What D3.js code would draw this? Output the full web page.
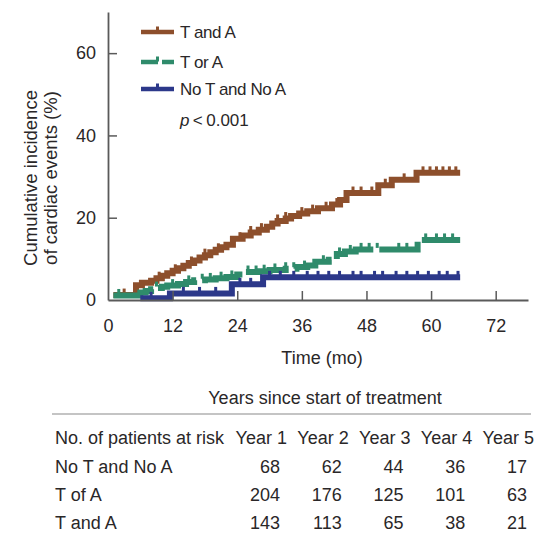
<!DOCTYPE html>
<html>
<head>
<meta charset="utf-8">
<script src="https://cdn.jsdelivr.net/npm/d3@7/dist/d3.min.js"></script>
<style>
  body { margin: 0; background: #fff; }
  svg text { font-family: "Liberation Sans", Arial, Helvetica, sans-serif; fill: #2a2728; }
</style>
</head>
<body>
<svg id="chart" width="536" height="538"></svg>
<script>
// ---- data ----
var seriesNames = ["T and A", "T or A", "No T and No A"];
var seriesColors = ["#8d4f2c", "#2f8b6b", "#2c388a"];

// step knots: [month, cumulative incidence %]
var tAndA = [
  [1, 1.2], [5.2, 3.6], [6.3, 4.2], [8, 4.7], [9, 5.3], [10, 5.9], [11, 6.5], [12, 7.1],
  [13, 7.7], [14, 8.3], [15, 9.0], [16, 9.6], [17, 10.3], [18, 10.9], [19, 11.6],
  [20, 12.2], [21, 12.8], [22, 13.4], [23.2, 14.9], [25, 15.7], [26.5, 16.4], [28, 17.1],
  [29.5, 17.8], [30.5, 18.6], [31.5, 19.2], [33, 19.8], [34, 20.4], [35.5, 21.0],
  [37, 21.6], [39, 22.3], [41.6, 23.2], [43.1, 24.3], [44.3, 26.0], [50.2, 27.9],
  [52.7, 29.2], [57.3, 30.9], [65.4, 30.9]
];
var tOrA = [
  [1, 1.1], [6, 1.8], [7, 2.2], [8, 2.6], [9, 2.9], [10, 3.2], [11, 3.5], [13, 3.9],
  [14.5, 4.4], [16, 4.8], [18, 5.0], [20, 5.3], [22, 5.6], [24, 6.2], [25, 6.8],
  [28, 7.0], [30, 7.3], [33, 7.6], [35, 8.0], [37, 8.4], [38.5, 9.3], [41, 9.8],
  [42.5, 11.2], [44, 11.8], [46, 12.3], [57.5, 14.6], [65.4, 14.6]
];
var noTnoA = [
  [6, 0.4], [11.5, 1.6], [23, 3.8], [28.8, 5.5], [65.4, 5.5]
];

// censoring marks (months)
var censorTandA = [3, 9.5, 12.5, 15.5, 18, 20.5, 24.5, 26.5, 28.5, 31.5, 33, 36, 38, 40.5,
  42.5, 45.5, 47, 49, 51.5, 55, 58.5, 59.8, 61, 62.2, 63.4, 64.6];
var censorTorA = [2, 9, 12, 15, 17.5, 19, 21, 23, 26, 27.5, 29, 31, 33, 34.5, 36.5, 40, 43,
  45, 47, 48.5, 50, 54, 55.5, 59, 61, 62.5, 64];
var censorNoTnoA = [8, 14, 17, 20, 24.5, 26.5, 30, 32, 34.5, 37, 39, 41, 43, 45.5, 47, 49.5,
  51, 53.5, 55.5, 57.5, 59.5, 61.5, 63, 65];

var xTicks = [0, 12, 24, 36, 48, 60, 72];
var yTicks = [0, 20, 40, 60];

// at-risk table
var tableTitle = "Years since start of treatment";
var tableHeader = "No. of patients at risk";
var years = ["Year 1", "Year 2", "Year 3", "Year 4", "Year 5"];
var riskRows = ["No T and No A", "T of A", "T and A"];
var riskNoTnoA = [68, 62, 44, 36, 17];
var riskTorA = [204, 176, 125, 101, 63];
var riskTandA = [143, 113, 65, 38, 21];

// ---- drawing ----
var svg = d3.select("#chart");
svg.append("rect").attr("width", 536).attr("height", 538).attr("fill", "#fff");

var x = d3.scaleLinear().domain([0, 78]).range([108, 528]);
var y = d3.scaleLinear().domain([0, 70]).range([300, 12]);

var curves = [tAndA, tOrA, noTnoA];
var censors = [censorTandA, censorTorA, censorNoTnoA];
var dashes = [null, "46,6", null];

var line = d3.line()
  .curve(d3.curveStepAfter)
  .x(function(d) { return x(d[0]); })
  .y(function(d) { return y(d[1]); });

// value of a step curve at time t
function valueAt(data, t) {
  var v = data[0][1];
  data.forEach(function(d) { if (d[0] <= t) v = d[1]; });
  return v;
}

// draw in back-to-front order: brown, green, blue
[0, 1, 2].forEach(function(i) {
  var g = svg.append("g").attr("class", "series");
  g.append("path")
    .attr("d", line(curves[i]))
    .attr("fill", "none")
    .attr("stroke", seriesColors[i])
    .attr("stroke-width", 6)
    .attr("stroke-dasharray", dashes[i]);
  g.selectAll("rect.censor")
    .data(censors[i])
    .enter().append("rect")
    .attr("class", "censor")
    .attr("x", function(t) { return x(t) - 1.5; })
    .attr("y", function(t) { return y(valueAt(curves[i], t)) - 6.5; })
    .attr("width", 3)
    .attr("height", 5)
    .attr("fill", seriesColors[i]);
});

// axes
var axisColor = "#5a5a5a";
var xAxis = svg.append("g")
  .attr("transform", "translate(0,300)")
  .call(d3.axisBottom(x).tickValues(xTicks).tickSize(-9).tickPadding(19).tickSizeOuter(0));
var yAxis = svg.append("g")
  .attr("transform", "translate(108,0)")
  .call(d3.axisLeft(y).tickValues(yTicks).tickSize(-9).tickPadding(12).tickSizeOuter(0));

[xAxis, yAxis].forEach(function(a) {
  a.select(".domain").attr("stroke", axisColor).attr("stroke-width", 1.8);
  a.selectAll(".tick line").attr("stroke", axisColor).attr("stroke-width", 1.5);
  a.selectAll(".tick text").attr("font-size", 18).attr("fill", "#2a2728")
    .attr("font-family", "Liberation Sans, Arial, sans-serif");
});
xAxis.selectAll(".tick").filter(function(d) { return d === 0; }).select("line").remove();
yAxis.selectAll(".tick").filter(function(d) { return d === 0; }).select("line").remove();

// axis titles
svg.append("text")
  .attr("x", 322).attr("y", 364)
  .attr("text-anchor", "middle")
  .attr("font-size", 18)
  .text("Time (mo)");

var yTitle = ["Cumulative incidence", "of cardiac events (%)"];
yTitle.forEach(function(t, i) {
  svg.append("text")
    .attr("transform", "translate(" + (37 + i * 20) + ",178) rotate(-90)")
    .attr("text-anchor", "middle")
    .attr("font-size", 18.5)
    .text(t);
});

// legend
var legendY = [32, 62, 89];
seriesNames.forEach(function(name, i) {
  var g = svg.append("g").attr("transform", "translate(0," + legendY[i] + ")");
  g.append("line")
    .attr("x1", 141).attr("x2", 174).attr("y1", 0).attr("y2", 0)
    .attr("stroke", seriesColors[i]).attr("stroke-width", 4.5)
    .attr("stroke-dasharray", i === 1 ? "17,4" : null);
  g.append("rect")
    .attr("x", 156).attr("y", -5.5).attr("width", 3).attr("height", 5)
    .attr("fill", seriesColors[i]);
  g.append("text")
    .attr("x", 180).attr("y", 6)
    .attr("font-size", 17)
    .attr("letter-spacing", -0.4)
    .text(name);
});
var pText = svg.append("text").attr("x", 180).attr("y", 126).attr("font-size", 17);
pText.append("tspan").attr("font-style", "italic").text("p");
pText.append("tspan").text("\u2009<\u20090.001");

// risk table
svg.append("text")
  .attr("x", 325).attr("y", 404)
  .attr("text-anchor", "middle")
  .attr("font-size", 18)
  .text(tableTitle);
svg.append("line")
  .attr("x1", 52).attr("x2", 531).attr("y1", 414).attr("y2", 414)
  .attr("stroke", "#8a8a8a").attr("stroke-width", 1.2);

var col = d3.scalePoint().domain(years).range([280, 527]);
var rowY = [473, 501, 529];

svg.append("text").attr("x", 55).attr("y", 444).attr("font-size", 18).text(tableHeader);
svg.selectAll("text.year")
  .data(years)
  .enter().append("text")
  .attr("class", "year")
  .attr("x", function(d) { return col(d) + 7; })
  .attr("y", 444)
  .attr("text-anchor", "end")
  .attr("font-size", 18)
  .text(function(d) { return d; });

[riskNoTnoA, riskTorA, riskTandA].forEach(function(vals, r) {
  svg.append("text").attr("x", 55).attr("y", rowY[r]).attr("font-size", 18).text(riskRows[r]);
  svg.selectAll("text.risk" + r)
    .data(vals)
    .enter().append("text")
    .attr("class", "risk" + r)
    .attr("x", function(d, i) { return col(years[i]); })
    .attr("y", rowY[r])
    .attr("text-anchor", "end")
    .attr("font-size", 18)
    .text(function(d) { return d; });
});
</script>
</body>
</html>
